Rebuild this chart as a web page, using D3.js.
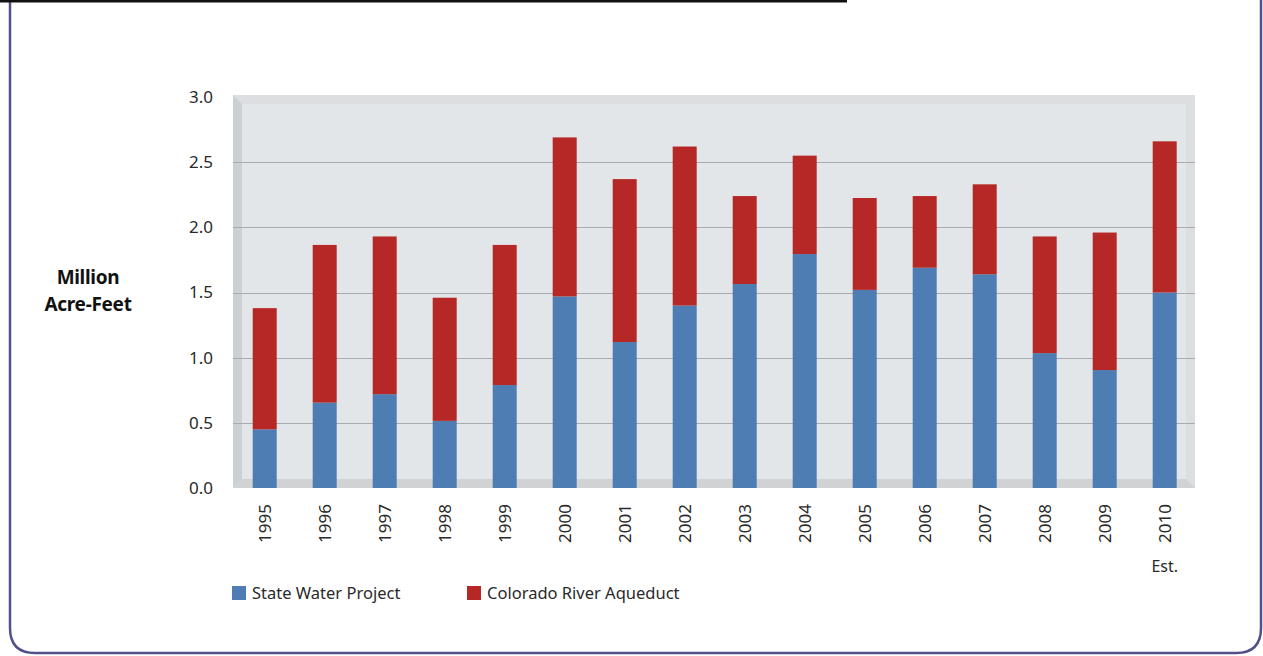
<!DOCTYPE html>
<html><head><meta charset="utf-8">
<script src="https://cdn.jsdelivr.net/npm/d3@7"></script>
<style>
html,body{margin:0;padding:0;background:#fff;}
svg{display:block;}
text{font-family:"Noto Sans","Open Sans",sans-serif;}
</style></head>
<body>
<svg id="c" width="1263" height="656"></svg>
<script>
const years = ["1995","1996","1997","1998","1999","2000","2001","2002","2003","2004","2005","2006","2007","2008","2009","2010"];
const stateWaterProject = [0.45,0.655,0.72,0.515,0.79,1.47,1.12,1.40,1.565,1.795,1.52,1.69,1.64,1.035,0.905,1.50];
const coloradoRiverAqueduct = [0.93,1.21,1.21,0.945,1.075,1.22,1.25,1.22,0.675,0.755,0.705,0.55,0.69,0.895,1.055,1.16];
const yTicks = [0,0.5,1.0,1.5,2.0,2.5,3.0];
const seriesNames = ["State Water Project","Colorado River Aqueduct"];
const colors = ["#4d7db2","#b52826"];

const svg = d3.select("#c");

// page frame
svg.append("path")
  .attr("d","M10,-2 L10,628 Q10,653 35,653 L1236,653 Q1261,653 1261,628 L1261,-2")
  .attr("fill","none").attr("stroke","#50508a").attr("stroke-width",2.5);
svg.append("rect").attr("x",0).attr("y",0).attr("width",847).attr("height",2.5).attr("fill","#111");

const x = d3.scaleBand().domain(years).range([234.7,1194.7]).paddingInner(0.6).paddingOuter(0.3);
const y = d3.scaleLinear().domain([0,3]).range([488,97]);

const L = 233, R = 1195, T = 95, B = 488, d = 9;
svg.append("rect").attr("x",L).attr("y",T).attr("width",R-L).attr("height",B-T).attr("fill","#dcdee0");
svg.append("rect").attr("x",L+d).attr("y",T+d).attr("width",R-L-2*d).attr("height",B-T-2*d).attr("fill","#e3e6e9");
svg.append("path").attr("d",`M${L},${T} L${L+d},${T+d} L${L+d},${B-d} L${L},${B} Z`).attr("fill","#cdd0d3");
svg.append("path").attr("d",`M${L},${B} L${L+d},${B-d} L${R-d},${B-d} L${R},${B} Z`).attr("fill","#d0d2d4");

svg.append("g").selectAll("line").data(yTicks.filter(t=>t>0 && t<3)).join("line")
  .attr("x1",L).attr("x2",R).attr("y1",d=>Math.round(y(d))+0.5).attr("y2",d=>Math.round(y(d))+0.5)
  .attr("stroke","#a9abae").attr("stroke-width",1);

const yAxis = d3.axisLeft(y).tickValues(yTicks).tickFormat(d3.format(".1f")).tickSize(0).tickPadding(0);
const ya = svg.append("g").attr("transform","translate(213,0)").call(yAxis);
ya.select(".domain").remove();
ya.selectAll("text").attr("font-size",17).attr("fill","#2a2a2a").attr("font-family","'Noto Sans',sans-serif");

const stackData = years.map((yr,i)=>({year:yr, swp:stateWaterProject[i], cra:coloradoRiverAqueduct[i]}));
const stack = d3.stack().keys(["swp","cra"])(stackData);
svg.append("g").selectAll("g").data(stack).join("g")
  .attr("fill",(s,i)=>colors[i])
  .selectAll("rect").data(s=>s).join("rect")
  .attr("x",d=>x(d.data.year)).attr("width",x.bandwidth())
  .attr("y",d=>y(d[1])).attr("height",d=>y(d[0])-y(d[1]));

const xa = svg.append("g");
xa.selectAll("text").data(years).join("text")
  .attr("transform",d=>`translate(${x(d)+x.bandwidth()/2+6},504) rotate(-90)`)
  .attr("text-anchor","end").attr("font-size",17).attr("fill","#2a2a2a").text(d=>d);
svg.append("text").attr("x",x("2010")+x.bandwidth()/2).attr("y",572).attr("text-anchor","middle")
  .attr("font-size",16).attr("fill","#2a2a2a").text("Est.");

const yt = svg.append("text").attr("text-anchor","middle").attr("font-size",19).attr("font-weight","bold")
  .attr("fill","#111").attr("letter-spacing","-0.3");
yt.append("tspan").attr("x",88).attr("y",284).text("Million");
yt.append("tspan").attr("x",88).attr("y",311).text("Acre-Feet");

const lg = svg.append("g");
const lx = [232,467];
seriesNames.forEach((n,i)=>{
  lg.append("rect").attr("x",lx[i]).attr("y",586).attr("width",14).attr("height",14).attr("fill",colors[i]);
  lg.append("text").attr("x",lx[i]+20).attr("y",599).attr("font-size",16.5).attr("fill","#2a2a2a").text(n);
});
</script>
</body></html>
